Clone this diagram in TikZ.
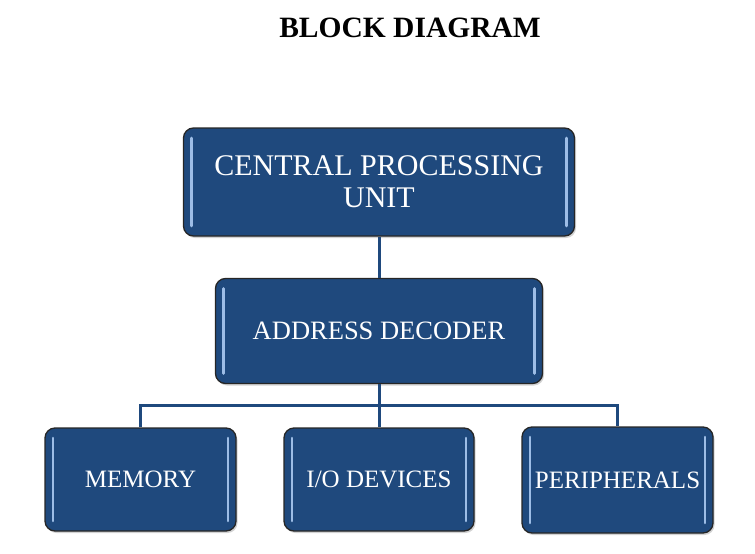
\documentclass[tikz,border=0pt]{standalone}
\usepackage{fontspec}
\setmainfont{Liberation Serif}
\usetikzlibrary{shadows}
\definecolor{boxblue}{HTML}{1F497D}
\definecolor{hilite}{HTML}{9DBDE6}
\tikzset{
  blockbox/.style={draw=black!85, line width=1.3pt, rounded corners=10pt,
    fill=boxblue, text=white, align=center, inner sep=0pt,
    drop shadow={shadow xshift=1.5pt, shadow yshift=-2pt, opacity=0.35},
    path picture={
      \draw[hilite, line width=2.6pt, line cap=round]
        ([xshift=8pt,yshift=-10pt]path picture bounding box.north west) --
        ([xshift=8pt,yshift=10pt]path picture bounding box.south west);
      \draw[hilite, line width=2.6pt, line cap=round]
        ([xshift=-8pt,yshift=-10pt]path picture bounding box.north east) --
        ([xshift=-8pt,yshift=10pt]path picture bounding box.south east);
    }},
  busline/.style={draw=boxblue, line width=3pt},
}
\begin{document}
\begin{tikzpicture}[x=1pt,y=-1pt]
  \useasboundingbox (0,0) rectangle (755,554);

  % Title
  \node (title) at (410,28) {\fontsize{29.5}{34}\selectfont\bfseries BLOCK DIAGRAM};

  % Boxes
  \node[blockbox, minimum width=391pt, minimum height=108pt,
        font=\fontsize{30}{32}\selectfont] (cpu) at (379,182)
        {CENTRAL PROCESSING\\UNIT};
  \node[blockbox, minimum width=327pt, minimum height=105pt,
        font=\fontsize{26.5}{30}\selectfont] (decoder) at (379,331)
        {ADDRESS DECODER};
  \node[blockbox, minimum width=191pt, minimum height=103pt,
        font=\fontsize{25}{28}\selectfont] (memory) at (140.5,479.5) {MEMORY};
  \node[blockbox, minimum width=190pt, minimum height=103pt,
        font=\fontsize{25}{28}\selectfont] (iodev) at (379,479.5) {I/O DEVICES};
  \node[blockbox, minimum width=191pt, minimum height=106pt,
        font=\fontsize{25}{28}\selectfont] (periph) at (617.5,480) {PERIPHERALS};

  % Connectors
  \coordinate (bus) at (379,405);
  \draw[busline] (cpu.south) -- (decoder.north);
  \draw[busline] (decoder.south) -- (iodev.north);
  \draw[busline] (memory.north) |- (bus) -| (periph.north);
\end{tikzpicture}
\end{document}
